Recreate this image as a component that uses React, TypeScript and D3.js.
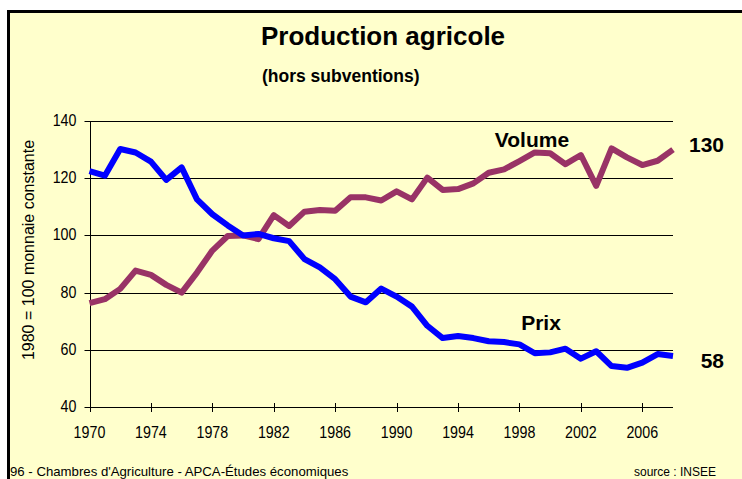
import { useEffect, useRef } from 'react';
import * as d3 from 'd3';

const years = d3.range(1970, 2009);

const volume = [
  76.3, 77.7, 81.3, 87.7, 86.2, 82.7, 80.0, 87.0, 94.7, 99.8,
  100.0, 98.7, 107.1, 103.3, 108.3, 108.9, 108.6, 113.3, 113.3, 112.2,
  115.4, 112.6, 120.2, 115.9, 116.2, 118.2, 121.9, 123.1, 126.0, 129.0,
  128.7, 124.9, 128.1, 117.3, 130.4, 127.3, 124.6, 126.1, 130.0,
];

const prix = [
  122.5, 120.9, 130.2, 129.0, 125.8, 119.4, 123.8, 112.6, 107.4, 103.5,
  100.0, 100.5, 99.0, 98.0, 91.7, 88.8, 84.7, 78.6, 76.6, 81.4,
  78.6, 75.1, 68.4, 64.1, 64.8, 64.1, 63.0, 62.7, 61.9, 58.8,
  59.1, 60.4, 56.9, 59.5, 54.3, 53.7, 55.5, 58.5, 57.8,
];

const yTicks = [40, 60, 80, 100, 120, 140];
const xTicks = d3.range(1970, 2007, 4);

const sans = "'Liberation Sans', Arial, sans-serif";

export default function App() {
  const ref = useRef<SVGSVGElement>(null);

  useEffect(() => {
    document.body.style.margin = '0';
    const width = 742;
    const height = 479;
    const svg = d3.select(ref.current);
    svg.selectAll('*').remove();
    svg.attr('width', width).attr('height', height);

    // page + frame
    svg.append('rect').attr('width', width).attr('height', height).attr('fill', '#ffffff');
    svg.append('rect')
      .attr('x', 8.5).attr('y', 11.5)
      .attr('width', width + 10).attr('height', height + 10)
      .attr('fill', '#ffffcc')
      .attr('stroke', '#000').attr('stroke-width', 3);

    const x = d3.scaleLinear().domain([1970, 2008]).range([89.5, 673]);
    const y = d3.scaleLinear().domain([40, 140]).range([407, 121]);

    const g = svg.append('g');

    // gridlines
    g.selectAll('line.grid')
      .data(yTicks)
      .join('line')
      .attr('x1', x(1970) - 5).attr('x2', x(2008))
      .attr('y1', (d) => Math.round(y(d)) + 0.5).attr('y2', (d) => Math.round(y(d)) + 0.5)
      .attr('stroke', '#000').attr('stroke-width', 1);

    // y axis
    g.append('line')
      .attr('x1', Math.round(x(1970)) + 0.5).attr('x2', Math.round(x(1970)) + 0.5)
      .attr('y1', y(140)).attr('y2', y(40))
      .attr('stroke', '#000');

    // tall narrow tick labels (Arial Narrow look)
    g.selectAll('text.ytick')
      .data(yTicks)
      .join('text')
      .attr('transform', (d) => `translate(${x(1970) - 13},${y(d) + 5}) scale(0.84,1)`)
      .attr('text-anchor', 'end')
      .attr('font-family', sans)
      .attr('font-size', 17)
      .text((d) => d);

    // x ticks
    g.selectAll('line.xtick')
      .data(xTicks)
      .join('line')
      .attr('x1', (d) => Math.round(x(d)) + 0.5).attr('x2', (d) => Math.round(x(d)) + 0.5)
      .attr('y1', y(40) - 4).attr('y2', y(40) + 5)
      .attr('stroke', '#000');

    g.selectAll('text.xtick')
      .data(xTicks)
      .join('text')
      .attr('transform', (d) => `translate(${x(d)},438) scale(0.84,1)`)
      .attr('text-anchor', 'middle')
      .attr('font-family', sans)
      .attr('font-size', 17)
      .text((d) => d);

    // lines
    const line = d3.line<number>()
      .x((_, i) => x(years[i]))
      .y((d) => y(d));

    g.append('path')
      .datum(volume)
      .attr('fill', 'none')
      .attr('stroke', '#993366')
      .attr('stroke-width', 6)
      .attr('stroke-linejoin', 'round')
      .attr('d', line);

    g.append('path')
      .datum(prix)
      .attr('fill', 'none')
      .attr('stroke', '#0000ff')
      .attr('stroke-width', 6)
      .attr('stroke-linejoin', 'round')
      .attr('d', line);

    // titles
    svg.append('text')
      .attr('x', 383).attr('y', 45)
      .attr('text-anchor', 'middle')
      .attr('font-family', sans)
      .attr('font-weight', 'bold')
      .attr('font-size', 26)
      .text('Production agricole');

    svg.append('text')
      .attr('x', 262).attr('y', 82)
      .attr('font-family', sans)
      .attr('font-weight', 'bold')
      .attr('font-size', 17.5)
      .text('(hors subventions)');

    svg.append('text')
      .attr('transform', 'translate(34,250) rotate(-90)')
      .attr('text-anchor', 'middle')
      .attr('font-family', sans)
      .attr('font-size', 16)
      .text('1980 = 100 monnaie constante');

    // series labels
    const bold = (t: string, px: number, py: number, anchor = 'middle') =>
      svg.append('text')
        .attr('x', px).attr('y', py)
        .attr('text-anchor', anchor)
        .attr('font-family', sans)
        .attr('font-weight', 'bold')
        .attr('font-size', 21)
        .text(t);

    bold('Volume', 532, 147);
    bold('Prix', 541, 330);
    bold('130', 724, 152, 'end');
    bold('58', 724, 368, 'end');

    // footer
    svg.append('text')
      .attr('x', 10).attr('y', 476)
      .attr('font-family', sans)
      .attr('font-size', 13.2)
      .text("96 - Chambres d'Agriculture - APCA-Études économiques");

    svg.append('text')
      .attr('x', 716).attr('y', 476)
      .attr('text-anchor', 'end')
      .attr('font-family', sans)
      .attr('font-size', 12)
      .text('source : INSEE');
  }, []);

  return <svg ref={ref} style={{ display: 'block' }}></svg>;
}
